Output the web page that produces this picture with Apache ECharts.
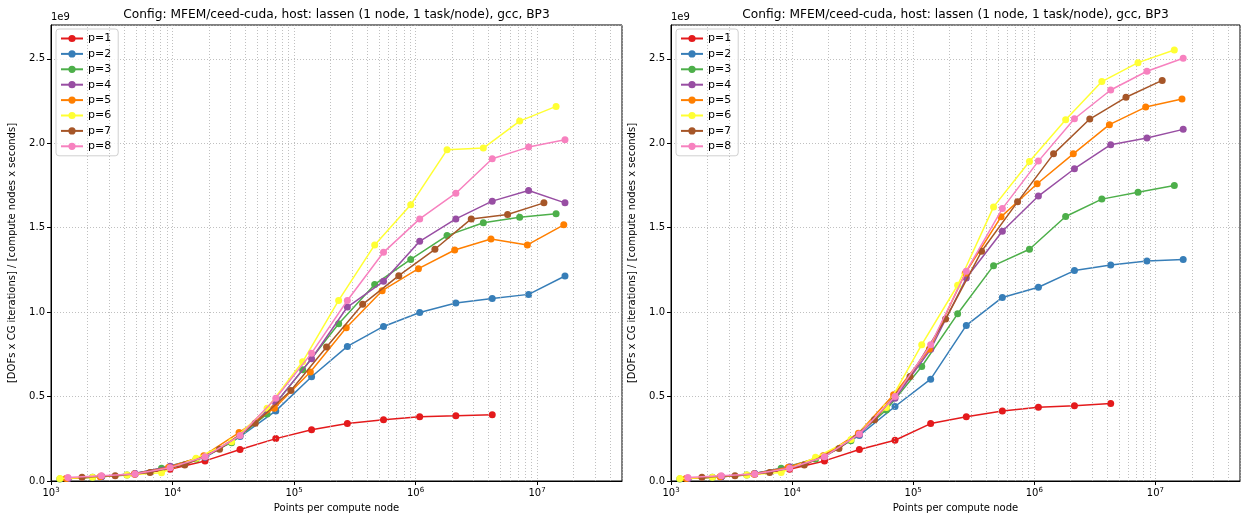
<!DOCTYPE html>
<html>
<head>
<meta charset="utf-8">
<script src="https://cdn.jsdelivr.net/npm/echarts@6/dist/echarts.min.js"></script>
<style>
  html, body { margin: 0; padding: 0; background: #fff; }
  #chart { width: 1241px; height: 519px; }
</style>
</head>
<body>
<div id="chart"></div>
<script>
// Points per compute node for each polynomial order (mesh refined one direction at a time)
const xP1 = [1377, 2601, 4913, 9537, 18513, 35937, 70785, 139425, 274625, 545025, 1081665, 2146689, 4276737];
const xP2 = [1377, 2601, 4913, 9537, 18513, 35937, 70785, 139425, 274625, 545025, 1081665, 2146689, 4276737, 8520321, 16974593];
const xP3 = [1183, 2197, 4225, 8125, 15625, 30625, 60025, 117649, 232897, 461041, 912673, 1815937, 3613249, 7189057, 14340865];
const xP4 = xP2;
const xP5 = [1331, 2541, 4851, 9261, 18081, 35301, 68921, 136161, 269001, 531441, 1056321, 2099601, 4173281, 8320641, 16589601];
const xP6 = xP3;
const xP7 = [1800, 3375, 6525, 12615, 24389, 47937, 94221, 185193, 367137, 727833, 1442897, 2873025, 5720625, 11390625];
const xP8 = xP2;

// Throughput in units of 1e9 — first panel
const leftP1 = [0.015, 0.028, 0.040, 0.070, 0.119, 0.186, 0.251, 0.304, 0.340, 0.362, 0.381, 0.386, 0.393];
const leftP2 = [0.015, 0.025, 0.045, 0.080, 0.140, 0.263, 0.415, 0.617, 0.797, 0.915, 0.998, 1.054, 1.081, 1.105, 1.214];
const leftP3 = [0.012, 0.022, 0.036, 0.075, 0.130, 0.227, 0.397, 0.658, 0.931, 1.164, 1.312, 1.453, 1.529, 1.561, 1.582];
const leftP4 = [0.015, 0.027, 0.045, 0.087, 0.145, 0.270, 0.461, 0.724, 1.030, 1.182, 1.419, 1.552, 1.657, 1.720, 1.647];
const leftP5 = [0.015, 0.025, 0.042, 0.080, 0.150, 0.287, 0.431, 0.645, 0.907, 1.127, 1.257, 1.368, 1.433, 1.398, 1.517];
const leftP6 = [0.015, 0.022, 0.035, 0.049, 0.135, 0.233, 0.431, 0.706, 1.069, 1.398, 1.635, 1.961, 1.971, 2.131, 2.218];
const leftP7 = [0.022, 0.031, 0.051, 0.095, 0.188, 0.342, 0.536, 0.793, 1.046, 1.216, 1.372, 1.552, 1.578, 1.647];
const leftP8 = [0.020, 0.031, 0.041, 0.079, 0.144, 0.269, 0.490, 0.757, 1.069, 1.354, 1.552, 1.704, 1.908, 1.977, 2.021];

// Throughput in units of 1e9 — second panel
const rightP1 = [0.015, 0.025, 0.040, 0.070, 0.119, 0.186, 0.241, 0.340, 0.380, 0.415, 0.436, 0.445, 0.459];
const rightP2 = [0.015, 0.025, 0.045, 0.080, 0.145, 0.270, 0.441, 0.603, 0.921, 1.087, 1.147, 1.246, 1.279, 1.303, 1.311];
const rightP3 = [0.012, 0.022, 0.036, 0.075, 0.130, 0.239, 0.421, 0.678, 0.990, 1.275, 1.372, 1.566, 1.669, 1.710, 1.750];
const rightP4 = [0.015, 0.027, 0.045, 0.085, 0.150, 0.275, 0.490, 0.780, 1.202, 1.479, 1.687, 1.849, 1.991, 2.031, 2.082];
const rightP5 = [0.015, 0.025, 0.042, 0.080, 0.150, 0.283, 0.510, 0.781, 1.230, 1.564, 1.760, 1.937, 2.110, 2.214, 2.262];
const rightP6 = [0.015, 0.022, 0.035, 0.050, 0.140, 0.245, 0.435, 0.807, 1.159, 1.623, 1.892, 2.139, 2.365, 2.477, 2.552];
const rightP7 = [0.022, 0.031, 0.051, 0.095, 0.192, 0.362, 0.619, 0.959, 1.360, 1.653, 1.937, 2.143, 2.272, 2.372];
const rightP8 = [0.020, 0.031, 0.041, 0.075, 0.144, 0.279, 0.500, 0.807, 1.242, 1.613, 1.894, 2.145, 2.315, 2.426, 2.503];

const seriesNames = ['p=1', 'p=2', 'p=3', 'p=4', 'p=5', 'p=6', 'p=7', 'p=8'];
const seriesColors = ['#e41a1c', '#377eb8', '#4daf4a', '#984ea3', '#ff7f00', '#ffff33', '#a65628', '#f781bf'];
const yTicks = [0, 0.5, 1.0, 1.5, 2.0, 2.5];
const titleText = 'Config: MFEM/ceed-cuda, host: lassen (1 node, 1 task/node), gcc, BP3';
const xName = 'Points per compute node';
const yName = '[DOFs x CG iterations] / [compute nodes x seconds]';

const xs = [xP1, xP2, xP3, xP4, xP5, xP6, xP7, xP8];
const panels = [
  [leftP1, leftP2, leftP3, leftP4, leftP5, leftP6, leftP7, leftP8],
  [rightP1, rightP2, rightP3, rightP4, rightP5, rightP6, rightP7, rightP8]
];

const FONT = 'DejaVu Sans';
const X_MIN = 1e3, X_MAX = 5e7, Y_MAX = 2.7;

// minor decade gridlines (2..9 x 10^k)
const minorX = [];
for (let k = 3; k <= 7; k++) {
  for (let m = 2; m <= 9; m++) {
    const v = m * Math.pow(10, k);
    if (v < X_MAX) minorX.push(v);
  }
}

const grids = [
  { left: 51, top: 25, width: 571, height: 456 },
  { left: 671, top: 25, width: 569, height: 456 }
];

const gridLine = { show: true, lineStyle: { color: '#b0b0b0', type: [1, 2], width: 0.8 } };

const xAxes = grids.map((g, i) => ({
  type: 'log', logBase: 10, gridIndex: i, min: X_MIN, max: X_MAX,
  name: xName, nameLocation: 'middle', nameGap: 22,
  nameTextStyle: { fontFamily: FONT, fontSize: 10, color: '#000' },
  axisLine: { show: true, lineStyle: { color: '#000', width: 1 } },
  axisTick: { show: true, length: 4, lineStyle: { color: '#000' } },
  splitLine: gridLine,
  axisLabel: {
    fontFamily: FONT, fontSize: 10, color: '#000', margin: 6,
    showMaxLabel: false,
    formatter: v => {
      const e = Math.log10(v);
      if (Math.abs(e - Math.round(e)) > 1e-6) return '';
      return '10{sup|' + Math.round(e) + '}';
    },
    rich: { sup: { fontFamily: FONT, fontSize: 7, verticalAlign: 'top', padding: [0, 0, 6, 0] } }
  }
}));

const yAxes = grids.map((g, i) => ({
  type: 'value', gridIndex: i, min: 0, max: Y_MAX, interval: 0.5,
  name: yName, nameLocation: 'middle', nameGap: 34, nameRotate: 90,
  nameTextStyle: { fontFamily: FONT, fontSize: 10, color: '#000' },
  axisLine: { show: true, lineStyle: { color: '#000', width: 1 } },
  axisTick: { show: true, length: 4, lineStyle: { color: '#000' } },
  splitLine: gridLine,
  axisLabel: {
    fontFamily: FONT, fontSize: 10, color: '#000', margin: 6, showMaxLabel: false,
    formatter: v => yTicks.some(t => Math.abs(t - v) < 1e-9) ? v.toFixed(1) : ''
  }
}));

const series = [];
panels.forEach((vals, gi) => {
  // minor gridlines underneath the data
  series.push({
    type: 'line', xAxisIndex: gi, yAxisIndex: gi, data: [], z: 1, silent: true,
    markLine: {
      silent: true, symbol: ['none', 'none'], label: { show: false },
      lineStyle: { color: '#b0b0b0', type: [1, 2], width: 0.8 },
      emphasis: { disabled: true },
      data: minorX.map(v => ({ xAxis: v }))
    }
  });
  vals.forEach((ys, si) => {
    series.push({
      name: seriesNames[si], type: 'line', xAxisIndex: gi, yAxisIndex: gi,
      data: xs[si].slice(0, ys.length).map((x, k) => [x, ys[k]]),
      symbol: 'circle', symbolSize: 7, showSymbol: true,
      lineStyle: { width: 1.5, color: seriesColors[si] },
      itemStyle: { color: seriesColors[si] },
      z: 3 + si, animation: false, emphasis: { disabled: true }
    });
  });
});

const legends = grids.map(g => ({
  orient: 'vertical', left: g.left + 5, top: g.top + 4,
  data: seriesNames,
  itemWidth: 22, itemHeight: 9, itemGap: 4.4,
  padding: [4, 7, 4, 4],
  borderColor: '#d0d0d0', borderWidth: 1, borderRadius: 3,
  backgroundColor: 'rgba(255,255,255,0.8)',
  textStyle: { fontFamily: FONT, fontSize: 11, color: '#000' },
  selectedMode: false
}));

// panel titles and the axis offset text, placed above each plot area
const graphics = [];
grids.forEach(g => {
  graphics.push({
    type: 'text', x: g.left + g.width / 2, y: 15,
    style: { text: titleText, font: '12.2px "DejaVu Sans"', fill: '#000', textAlign: 'center', textVerticalAlign: 'middle' }
  });
  graphics.push({
    type: 'text', left: g.left, top: 12,
    style: { text: '1e9', font: '10px "DejaVu Sans"', fill: '#000' }
  });
});

const chart = echarts.init(document.getElementById('chart'), null, { renderer: 'canvas' });
chart.setOption({
  animation: false,
  backgroundColor: '#fff',
  color: seriesColors,
  legend: legends,
  grid: grids.map(g => Object.assign({ show: true, borderColor: '#000', borderWidth: 1, backgroundColor: 'transparent' }, g)),
  xAxis: xAxes,
  yAxis: yAxes,
  graphic: graphics,
  series: series
});
</script>
</body>
</html>
